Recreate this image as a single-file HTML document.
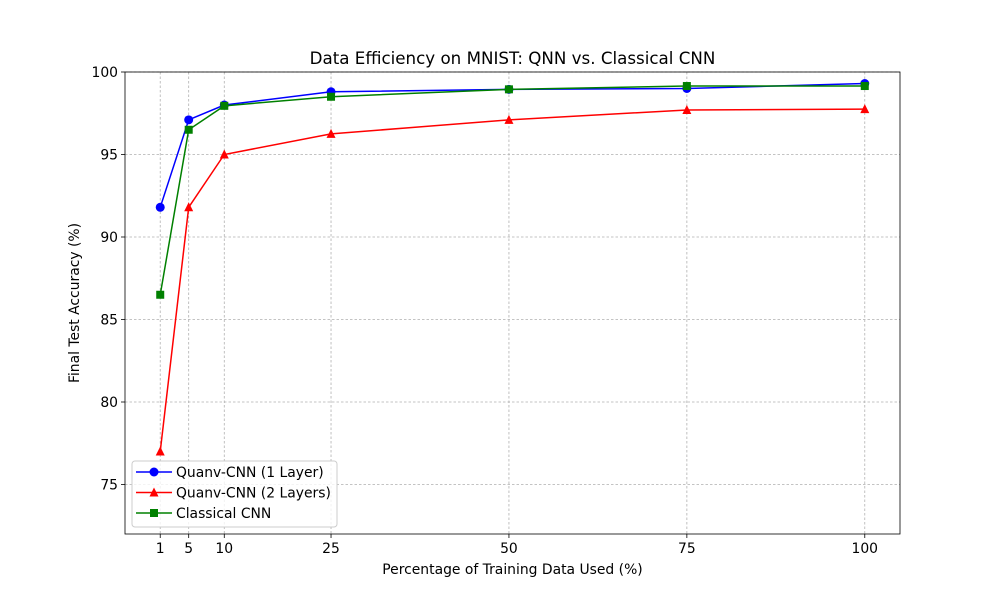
<!DOCTYPE html>
<html><head><meta charset="utf-8"><style>
body{margin:0;background:#fff;font-family:"Liberation Sans","DejaVu Sans",sans-serif;}
svg text{font-family:"DejaVu Sans","Liberation Sans",sans-serif;}
</style></head><body>
<svg id="chart" width="1000" height="600" xmlns="http://www.w3.org/2000/svg"></svg>
<script>
const categories = [1, 5, 10, 25, 50, 75, 100];
const qnn1 = [91.8, 97.1, 98.0, 98.8, 98.95, 99.0, 99.3];
const qnn2 = [77.0, 91.8, 95.0, 96.25, 97.1, 97.7, 97.75];
const cnn = [86.5, 96.5, 97.95, 98.5, 98.95, 99.15, 99.15];
const yTicks = [75, 80, 85, 90, 95, 100];
const xTicks = [1, 5, 10, 25, 50, 75, 100];

const L=125,R=900,T=72,B=534;
const xMin=-3.95,xMax=104.95,yMin=72,yMax=100;
const X=v=>L+(v-xMin)/(xMax-xMin)*(R-L);
const Y=v=>B-(v-yMin)/(yMax-yMin)*(B-T);
const svg=document.getElementById('chart');
const NS='http://www.w3.org/2000/svg';
const FS=13.9;
function mk(tag,attrs,parent){const e=document.createElementNS(NS,tag);for(const k in attrs)e.setAttribute(k,attrs[k]);(parent||svg).appendChild(e);return e;}

xTicks.forEach(t=>{const g=mk('line',{x1:X(t),x2:X(t),y1:T,y2:B,stroke:'#b0b0b0','stroke-width':0.8,'stroke-dasharray':'2.5,2'});

});
yTicks.forEach(t=>{const g=mk('line',{x1:L,x2:R,y1:Y(t),y2:Y(t),stroke:'#b0b0b0','stroke-width':0.8,'stroke-dasharray':'2.5,2'});

});

xTicks.forEach(t=>{mk('line',{x1:X(t),x2:X(t),y1:B,y2:B+4,stroke:'#000','stroke-width':0.8});
const tx=mk('text',{x:X(t),y:B+19,'font-size':FS,'text-anchor':'middle',fill:'#000'});tx.textContent=t;

});
yTicks.forEach(t=>{mk('line',{x1:L-4,x2:L,y1:Y(t),y2:Y(t),stroke:'#000','stroke-width':0.8});
const tx=mk('text',{x:L-7,y:Y(t)+5,'font-size':FS,'text-anchor':'end',fill:'#000'});tx.textContent=t;

});

function series(vals,color,marker,name){
  const g=mk('g',{});
  
  
  mk('polyline',{points:vals.map((v,i)=>X(categories[i])+','+Y(v)).join(' '),fill:'none',stroke:color,'stroke-width':1.5},g);
  vals.forEach((v,i)=>{const cx=X(categories[i]),cy=Y(v);let m;
    if(marker==='o')m=mk('circle',{cx,cy,r:4.5,fill:color},g);
    else if(marker==='^')m=mk('polygon',{points:`${cx},${cy-5} ${cx-4.5},${cy+4} ${cx+4.5},${cy+4}`,fill:color},g);
    else m=mk('rect',{x:cx-4,y:cy-4,width:8,height:8,fill:color},g);
    
    });
}
series(qnn1,'#0000ff','o','series-quanv-1-layer');
series(qnn2,'#ff0000','^','series-quanv-2-layers');
series(cnn,'#008000','s','series-classical-cnn');

const fr=mk('rect',{x:L,y:T,width:R-L,height:B-T,fill:'none',stroke:'#000','stroke-width':0.8});



const ti=mk('text',{x:(L+R)/2,y:64,'font-size':16.7,'text-anchor':'middle'});ti.textContent='Data Efficiency on MNIST: QNN vs. Classical CNN';


const xl=mk('text',{x:(L+R)/2,y:574,'font-size':FS,'text-anchor':'middle'});xl.textContent='Percentage of Training Data Used (%)';


const yl=mk('text',{x:0,y:0,'font-size':FS,'text-anchor':'middle',transform:`translate(79,${(T+B)/2}) rotate(-90)`});yl.textContent='Final Test Accuracy (%)';



const lg=mk('g',{});


mk('rect',{x:132,y:461,width:205,height:66,rx:3,fill:'#fff','fill-opacity':0.8,stroke:'#ccc'},lg);
[['Quanv-CNN (1 Layer)','#0000ff','o'],['Quanv-CNN (2 Layers)','#ff0000','^'],['Classical CNN','#008000','s']].forEach((d,i)=>{
  const y=472+i*20.5;const cx=154;
  const e=mk('g',{},lg);
  
  
  mk('line',{x1:136,x2:172,y1:y,y2:y,stroke:d[1],'stroke-width':1.5},e);
  if(d[2]==='o')mk('circle',{cx,cy:y,r:4.5,fill:d[1]},e);
  else if(d[2]==='^')mk('polygon',{points:`${cx},${y-5} ${cx-4.5},${y+4} ${cx+4.5},${y+4}`,fill:d[1]},e);
  else mk('rect',{x:cx-4,y:cy=y-4,width:8,height:8,fill:d[1]},e);
  const t=mk('text',{x:176,y:y+5,'font-size':FS},e);t.textContent=d[0];
});
</script>
</body></html>
